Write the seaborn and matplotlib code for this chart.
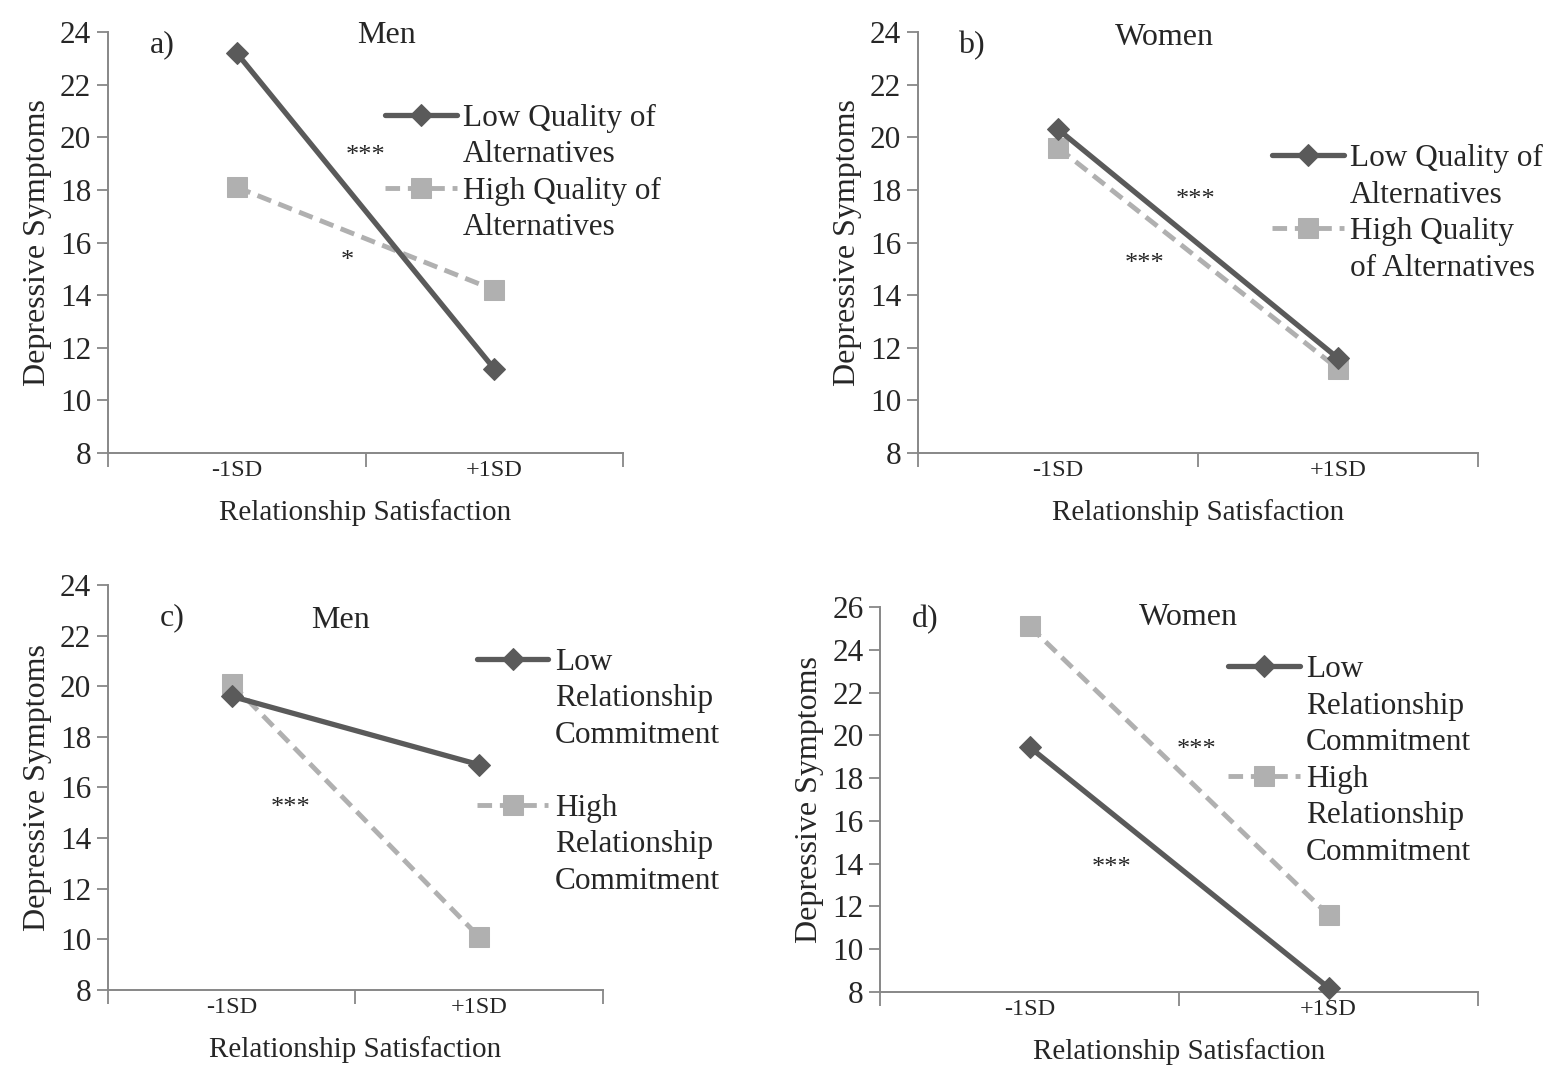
import numpy as np
import pandas as pd
import matplotlib.pyplot as plt
from matplotlib.lines import Line2D
import seaborn as sns

# 數值
levels = ['-1SD', '+1SD']
a_low = [23.2, 11.2]
a_high = [18.1, 14.2]
b_low = [20.3, 11.6]
b_high = [19.6, 11.2]
c_low = [19.6, 16.9]
c_high = [20.1, 10.1]
d_low = [19.45, 8.2]
d_high = [25.1, 11.6]

alt_labels = ['Low Quality of\nAlternatives', 'High Quality of\nAlternatives']
alt_labels_b = ['Low Quality of\nAlternatives', 'High Quality\nof Alternatives']
com_labels = ['Low\nRelationship\nCommitment', 'High\nRelationship\nCommitment']

dark = '#5a5a5a'
light = '#b0b0b0'
axis_gray = '#878787'

sns.set_style('white')
plt.rcParams['font.family'] = ['Liberation Serif', 'DejaVu Serif']

fig = plt.figure(figsize=(15.56, 10.70), dpi=100)


def panel(rect, low, high, labels, ylim, yticks, tag, sex, tag_xy, sex_xy,
          stars, leg_xy, gap=False):
    ax = fig.add_axes(rect)
    x = np.arange(len(levels))
    sns.lineplot(x=x, y=high, ax=ax, color=light, linewidth=3.5,
                 linestyle=(0, (3, 1.6)), marker='s', markersize=14,
                 markeredgecolor=light, label=labels[1], errorbar=None,
                 clip_on=False, zorder=3)
    sns.lineplot(x=x, y=low, ax=ax, color=dark, linewidth=3.8,
                 marker='D', markersize=11.5, markeredgecolor=dark,
                 label=labels[0], errorbar=None, clip_on=False, zorder=4)
    ax.set_xlim(-0.5, 1.5)
    ax.set_ylim(*ylim)
    ax.set_yticks(yticks)
    ax.set_xticks(x)
    ax.set_xticklabels(levels, fontsize=17.5)
    ax.set_xticks([-0.5, 0.5, 1.5], minor=True)
    ax.tick_params(axis='x', which='major', bottom=False, length=0, pad=5)
    ax.tick_params(axis='x', which='minor', bottom=True, length=10,
                   width=1.3, color=axis_gray, direction='out')
    ax.tick_params(axis='y', left=True, length=8, width=1.3,
                   color=axis_gray, direction='out', labelsize=22.5, pad=4)
    for s in ['top', 'right']:
        ax.spines[s].set_visible(False)
    for s in ['left', 'bottom']:
        ax.spines[s].set_color(axis_gray)
        ax.spines[s].set_linewidth(1.4)
    ax.set_xlabel('Relationship Satisfaction', fontsize=21, labelpad=13)
    ax.set_ylabel('Depressive Symptoms', fontsize=23, labelpad=6)
    ax.text(tag_xy[0], tag_xy[1], tag, fontsize=23, ha='center', va='center')
    ax.text(sex_xy[0], sex_xy[1], sex, fontsize=23, ha='center', va='center')
    for sx, sy, st in stars:
        ax.text(sx, sy, st, fontsize=19, ha='center', va='center')

    # 圖例：每行一個項目，只有第一行有線段
    h, l = ax.get_legend_handles_labels()
    blank = Line2D([], [], linestyle='none', marker='none')
    hh, ll = [], []
    for i, (hd, lb) in enumerate(zip(h[::-1], l[::-1])):
        if i > 0 and gap:
            hh.append(blank)
            ll.append(' ')
        for j, part in enumerate(lb.split('\n')):
            hh.append(hd if j == 0 else blank)
            ll.append(part)
    ax.legend(hh, ll, loc='upper left', bbox_to_anchor=leg_xy,
              frameon=False, fontsize=22.5, handlelength=2.3,
              handletextpad=0.2, borderpad=0, borderaxespad=0,
              labelspacing=0.24)
    return ax


panel([0.0694, 0.5766, 0.331, 0.3935], a_low, a_high, alt_labels,
      (8, 24), range(8, 25, 2), 'a)', 'Men', (-0.29, 23.5), (0.58, 23.85),
      [(0.50, 19.3, '***'), (0.43, 15.3, '*')], (0.538, 0.83))

panel([0.590, 0.5766, 0.360, 0.3935], b_low, b_high, alt_labels_b,
      (8, 24), range(8, 25, 2), 'b)', 'Women', (-0.31, 23.5), (0.38, 23.8),
      [(0.49, 17.6, '***'), (0.31, 15.2, '***')], (0.632, 0.733))

panel([0.0694, 0.0748, 0.318, 0.3785], c_low, c_high, com_labels,
      (8, 24), range(8, 25, 2), 'c)', 'Men', (-0.24, 22.7), (0.44, 22.6),
      [(0.24, 15.2, '***')], (0.745, 0.845), gap=True)

panel([0.5656, 0.0729, 0.3843, 0.3598], d_low, d_high, com_labels,
      (8, 26), range(8, 27, 2), 'd)', 'Women', (-0.35, 25.4), (0.53, 25.5),
      [(0.557, 19.3, '***'), (0.276, 13.8, '***')], (0.582, 0.875))

fig.savefig('out.png', dpi=100)
